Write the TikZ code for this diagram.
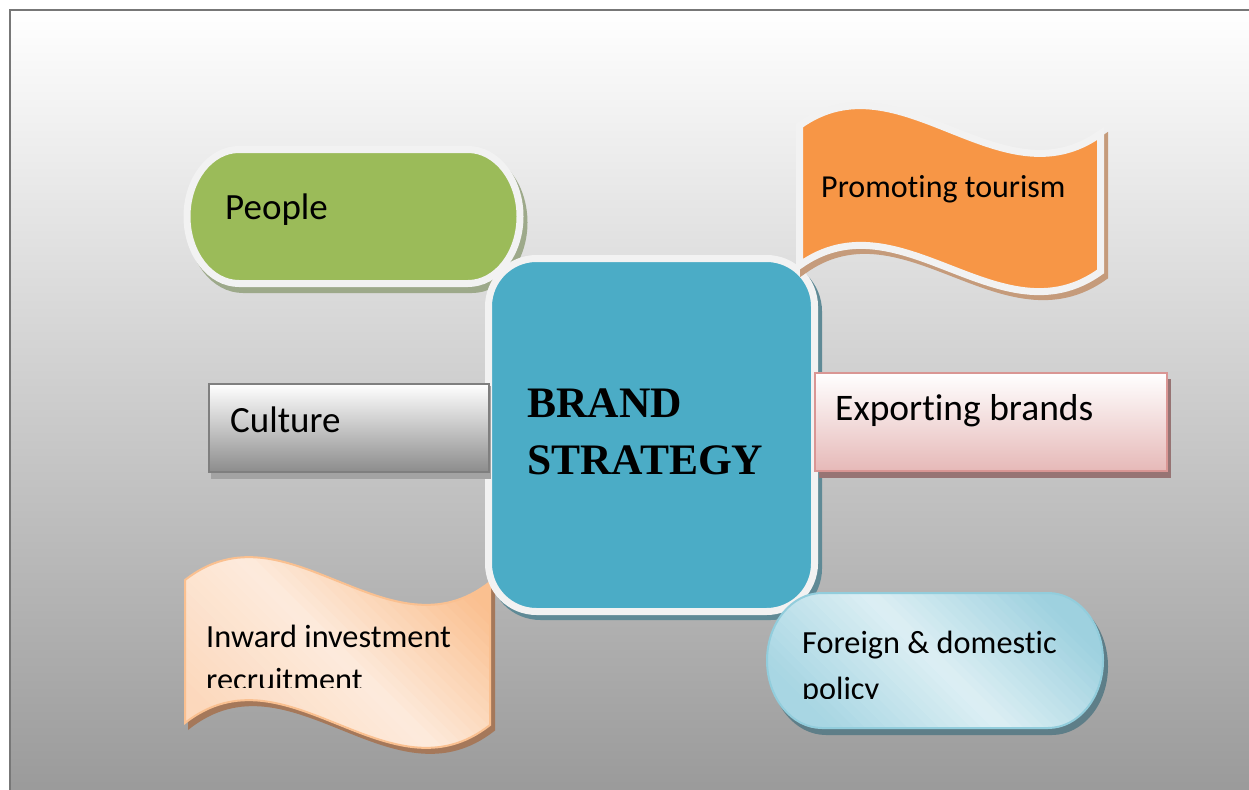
\documentclass[tikz,border=0pt]{standalone}
\usepackage{fontspec}
\setmainfont{Carlito}[RawFeature={-liga;-clig;-dlig;-calt;-rlig}]
\newfontfamily\headfont{Liberation Serif}

\definecolor{bgbot}{HTML}{9A9A9A}
\definecolor{framegray}{HTML}{777777}
\definecolor{rimgray}{HTML}{F2F2F2}
\definecolor{peoplegreen}{HTML}{9BBB59}
\definecolor{peopleshadow}{HTML}{9DA98A}
\definecolor{brandblue}{HTML}{4BACC6}
\definecolor{boxshadow}{HTML}{5F8A96}
\definecolor{tourorange}{HTML}{F79646}
\definecolor{tourshadow}{HTML}{C59B7B}
\definecolor{exportrim}{HTML}{D99694}
\definecolor{exportbot}{HTML}{E6B9B8}
\definecolor{exportmid}{HTML}{F4DEDD}
\definecolor{exportshadow}{HTML}{977474}
\definecolor{culturerim}{HTML}{7F7F7F}
\definecolor{culturebot}{HTML}{8C8C8C}
\definecolor{cultureshadow}{HTML}{A3A3A3}
\definecolor{inwardrim}{HTML}{FAC090}
\definecolor{inwarddark}{HTML}{FAC090}
\definecolor{inwardlight}{HTML}{FDEBDD}
\definecolor{inwardlow}{HTML}{FCD8BC}
\definecolor{inwardshadow}{HTML}{A5785A}
\definecolor{foreignrim}{HTML}{92CDDC}
\definecolor{foreigndark}{HTML}{9ED1DF}
\definecolor{foreignlight}{HTML}{DDEFF4}
\definecolor{foreignlow}{HTML}{A8D6E3}
\definecolor{foreignshadow}{HTML}{5E7E88}

% stadium outline with elliptical ends: x0 y0 x1 y1 horizontal-radius
\newcommand\pillpath[5]{%
 ({#1+#5},#2) -- ({#3-#5},#2)
 .. controls ({#3-#5+0.5523*#5},#2) and (#3,{#2+(#4-#2)/2*(1-0.5523)}) .. (#3,{(#2+#4)/2})
 .. controls (#3,{#4-(#4-#2)/2*(1-0.5523)}) and ({#3-#5+0.5523*#5},#4) .. ({#3-#5},#4)
 -- ({#1+#5},#4)
 .. controls ({#1+#5-0.5523*#5},#4) and (#1,{#4-(#4-#2)/2*(1-0.5523)}) .. (#1,{(#2+#4)/2})
 .. controls (#1,{#2+(#4-#2)/2*(1-0.5523)}) and ({#1+#5-0.5523*#5},#2) .. ({#1+#5},#2) -- cycle}

% wavy banner: x0 x1, top y at x0 and x1, bottom y at x0 and x1, wave depth
\newcommand\wavepath[7]{%
 (#1,#3) .. controls ({#1+(#2-#1)/3},{#3-#7}) and ({#1+2*(#2-#1)/3},{#4+#7}) .. (#2,#4)
 -- (#2,#6) .. controls ({#1+2*(#2-#1)/3},{#6+#7}) and ({#1+(#2-#1)/3},{#5-#7}) .. (#1,#5) -- cycle}

% diagonal gradient made of thin bands running from upper left to lower right:
% centre x, centre y, upper-right colour, centre colour, lower-left colour,
% half extent, ramp length
\newcommand\diagbands[7]{%
 \foreach \k in {0,...,47}{%
   \pgfmathsetmacro\sa{-#6+\k/48*2*#6}%
   \pgfmathsetmacro\sb{\sa+2*#6/48+1.2}%
   \pgfmathsetmacro\sm{\sa+#6/48}%
   \pgfmathsetmacro\pct{min(100,max(0,abs(\sm)/#7*100))}%
   \ifdim\sm pt>0pt \def\bandcol{#3}\else\def\bandcol{#5}\fi
   \fill[\bandcol!\pct!#4]
     ({#1+0.7071*((\sa)-300)},{#2+0.7071*(-300-(\sa))}) --
     ({#1+0.7071*((\sb)-300)},{#2+0.7071*(-300-(\sb))}) --
     ({#1+0.7071*((\sb)+300)},{#2+0.7071*(300-(\sb))}) --
     ({#1+0.7071*((\sa)+300)},{#2+0.7071*(300-(\sa))}) -- cycle;
 }}

\begin{document}
\begin{tikzpicture}[x=1pt,y=-1pt,
  lbl/.style={anchor=base west, inner sep=0pt, text=black},
  sanslbl/.style={lbl, font=\fontsize{#1}{#1}\selectfont},
  headlbl/.style={lbl, font=\headfont\bfseries\fontsize{43.5}{43.5}\selectfont}]

\useasboundingbox (0,0) rectangle (1249,789);
\fill[white] (0,0) rectangle (1249,789);

% framed page with a vertical grey gradient
\shadedraw[top color=white, bottom color=bgbot, draw=framegray, line width=2.5]
  (10,10) rectangle (1253,793);

% People
\filldraw[fill=peopleshadow, draw=peopleshadow, line width=7] \pillpath{191}{155.5}{524}{289.5}{52};
\filldraw[fill=peoplegreen, draw=rimgray, line width=7] \pillpath{187}{149.5}{520}{283.5}{52};

% Inward investment banner
\filldraw[fill=inwardshadow, draw=inwardshadow, line width=2] \wavepath{189}{494}{585}{587}{728}{730}{80};
\begin{scope}
  \clip \wavepath{185}{490}{580}{582}{723}{725}{80};
  \diagbands{337}{652}{inwarddark}{inwardlight}{inwardlow}{190}{135}
\end{scope}
\draw[inwardrim, line width=2] \wavepath{185}{490}{580}{582}{723}{725}{80};

% central box
\filldraw[fill=boxshadow, draw=boxshadow, line width=7, rounded corners=48]
  (492.5,263.5) rectangle (818.5,616.5);
\filldraw[fill=brandblue, draw=rimgray, line width=7, rounded corners=48]
  (488.5,258.5) rectangle (814.5,611.5);

% Culture
\fill[cultureshadow] (211,386) rectangle (491,479);
\shadedraw[top color=white, middle color=white!96!black, bottom color=culturebot,
  draw=culturerim, line width=2] (209,384) rectangle (489,472);

% Exporting brands
\fill[exportshadow] (819,379) rectangle (1171,478);
\shadedraw[top color=white, middle color=exportmid, bottom color=exportbot,
  draw=exportrim, line width=2] (815,373) rectangle (1167,471);

% Promoting tourism banner
\filldraw[fill=tourshadow, draw=tourshadow, line width=7]
  \wavepath{803.5}{1104.5}{130.5}{138.5}{270.5}{276.5}{72};
\filldraw[fill=tourorange, draw=rimgray, line width=7]
  \wavepath{799.5}{1100.5}{125.5}{133.5}{265.5}{271.5}{72};

% Foreign & domestic policy
\filldraw[fill=foreignshadow, draw=foreignshadow, line width=2] \pillpath{771}{599}{1107}{734}{55};
\begin{scope}
  \clip \pillpath{767}{593}{1103}{728}{55};
  \diagbands{935}{660}{foreigndark}{foreignlight}{foreignlow}{180}{120}
\end{scope}
\draw[foreignrim, line width=2] \pillpath{767}{593}{1103}{728}{55};

% labels
\node[sanslbl=37] (people) at (225,219) {People};
\node[sanslbl=32] (tourism) at (821,197) {Promoting tourism};
\node[sanslbl=37] (culture) at (230,432) {Culture};
\node[sanslbl=37.5] (export) at (835,420) {Exporting brands};
\node[headlbl] (brand) at (527,417) {BRAND};
\node[headlbl] (strategy) at (527,474) {STRATEGY};
\node[sanslbl=32.3] (inward) at (206,647) {Inward investment};
\begin{scope}
  \clip (190,600) rectangle (480,687);
  \node[sanslbl=32.3] (recruit) at (206,690) {recruitment};
\end{scope}
\node[sanslbl=32.3] (foreign) at (802,653) {Foreign \& domestic};
\begin{scope}
  \clip (780,660) rectangle (1090,698);
  \node[sanslbl=32.3] (policy) at (802,699) {policy};
\end{scope}
\end{tikzpicture}
\end{document}
